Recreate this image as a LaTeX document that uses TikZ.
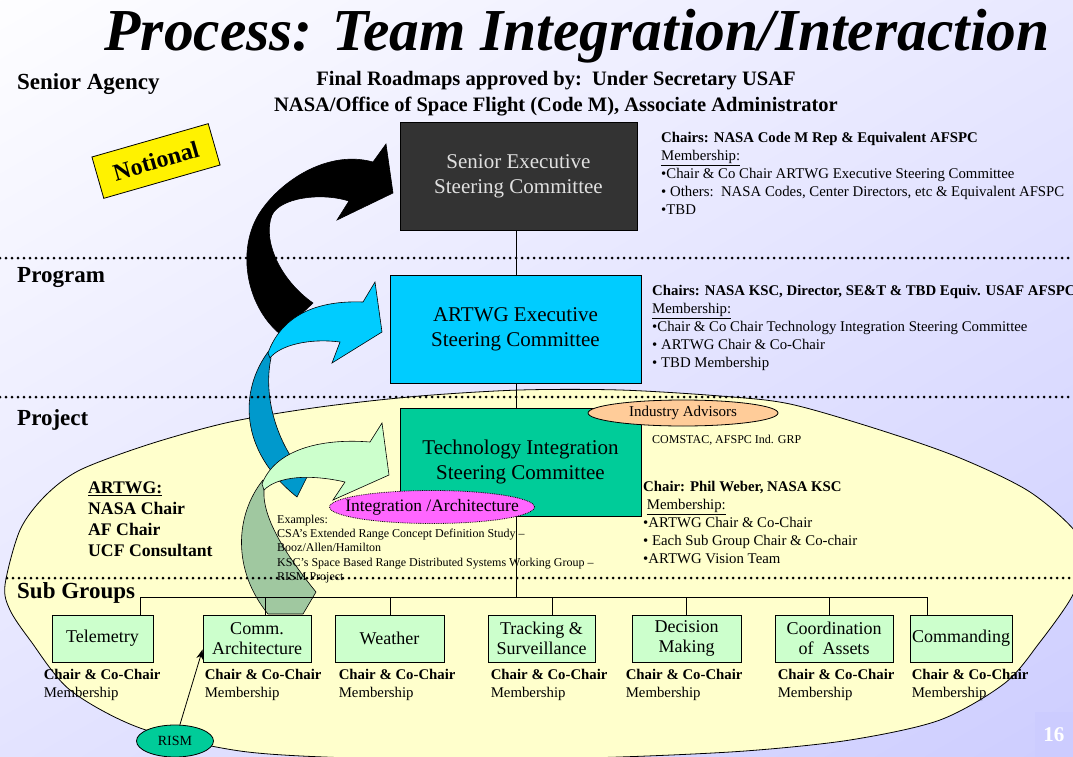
\documentclass[tikz,border=0pt]{standalone}
\usepackage{fontspec}
\setmainfont{Liberation Serif}
\usepackage{xcolor}
\usetikzlibrary{positioning}
\usetikzlibrary{shapes.geometric}
\usetikzlibrary{arrows.meta}

\definecolor{seniorgray}{RGB}{51,51,51}
\definecolor{execcyan}{RGB}{0,204,255}
\definecolor{execcyandk}{RGB}{0,153,204}
\definecolor{tisgreen}{RGB}{0,204,153}
\definecolor{subgreen}{RGB}{204,255,204}
\definecolor{subgreendk}{RGB}{160,200,160}
\definecolor{projyellow}{RGB}{255,255,204}
\definecolor{advorange}{RGB}{255,204,153}
\definecolor{intmagenta}{RGB}{255,102,255}
\definecolor{lavender}{RGB}{204,204,255}

\tikzset{%
  levelbox/.style={rectangle,draw=black,line width=0.8pt,minimum width=#1,minimum height=108pt,align=center,font=\fontsize{21}{25}\selectfont}
}
\tikzset{%
  subbox/.style={rectangle,draw=black,line width=0.8pt,fill=subgreen,minimum height=47pt,align=center,inner sep=2pt,font=\fontsize{18}{20}\selectfont},
  subnote/.style={inner sep=0pt,align=left,font=\fontsize{14.8}{18}\selectfont}
}
\tikzset{%
  levellabel/.style={anchor=west,inner sep=0pt,font=\bfseries\fontsize{23}{27}\selectfont},
  infotext/.style={anchor=north west,inner sep=0pt,align=left,font=\fontsize{14.8}{18}\selectfont},
  tagellipse/.style={ellipse,draw,line width=0.8pt,inner sep=0pt},
  sepline/.style={line width=3pt,dash pattern=on 0pt off 6pt,line cap=round},
  curvedarrow/.style={draw=black,line width=0.6pt},
  link/.style={line width=0.8pt}
}
\newcommand\chairnote{\textbf{Chair \& Co-Chair}\\Membership}

\begin{document}
\begin{tikzpicture}[x=1pt,y=-1pt,node distance=6pt]
\useasboundingbox (0,0) rectangle (1073,757);
\shade[top color=white,middle color=lavender!45,bottom color=lavender,shading angle=30] (-200,-200) rectangle (1273,957);

% project level
\draw[line width=0.8pt,fill=projyellow] plot[smooth cycle] coordinates {
  (5,585) (20,530) (45,496) (80,470) (150,444) (230,422) (320,407) (420,396) (520,390) (620,390)
  (720,396) (790,404) (880,430) (960,458) (1030,492) (1078,535) (1082,570) (1070,600) (1040,642)
  (1005,683) (940,720) (850,740) (745,751) (620,757) (480,760) (350,758) (240,751) (140,728)
  (70,690) (30,640) (10,610)};

% curved arrows between levels
\filldraw[curvedarrow,fill=black] (280,334) .. controls (245,305) and (235,245) .. (263,208)
  .. controls (285,178) and (330,150) .. (373,162) -- (386,144) -- (393,193) -- (337,220) -- (349,201)
  .. controls (320,192) and (280,198) .. (272,215) .. controls (262,240) and (280,280) .. (313,303) -- cycle;
\filldraw[curvedarrow,fill=execcyandk] (268,352) .. controls (240,390) and (238,450) .. (297,497) -- (307,477)
  .. controls (280,450) and (262,400) .. (271,358) -- cycle;
\filldraw[curvedarrow,fill=execcyan] (268,353) .. controls (280,320) and (310,300) .. (363,302) -- (375,282)
  -- (382,332) -- (332,363) -- (340,342) .. controls (310,338) and (280,345) .. (270,358) -- cycle;
\filldraw[curvedarrow,fill=subgreendk] (263,480) .. controls (235,515) and (232,570) .. (268,614) -- (303,614)
  -- (316,592) .. controls (290,560) and (262,520) .. (264,490) -- cycle;
\filldraw[curvedarrow,fill=subgreen] (262,484) .. controls (275,450) and (320,438) .. (370,442) -- (382,423)
  -- (389,475) -- (333,500) -- (345,482) .. controls (310,474) and (278,476) .. (264,490) -- cycle;

% headings
\node[font=\bfseries\itshape\fontsize{59.5}{64}\selectfont,inner sep=0pt] (title) at (577,36) {Process: Team Integration/Interaction};
\node[font=\bfseries\fontsize{20.5}{26}\selectfont,align=center] (approval) at (556,94)
  {Final Roadmaps approved by:\ \ Under Secretary USAF\\NASA/Office of Space Flight (Code M), Associate Administrator};
\node[levellabel] (lvsenior) at (17,84) {Senior Agency};
\node[levellabel] (lvprogram) at (17,278) {Program};
\node[levellabel] (lvproject) at (17,420) {Project};
\node[levellabel] (lvsub) at (17,593) {Sub Groups};
\node[draw,fill=yellow,line width=0.8pt,rotate=16,minimum width=121pt,minimum height=43pt,
  font=\bfseries\fontsize{24}{28}\selectfont] (notional) at (156,161) {Notional};

% committees
\node[levelbox=237pt,fill=seniorgray,text=white!88!black] (senior) at (518.5,176) {Senior Executive\\Steering Committee};
\node[levelbox=251pt,fill=execcyan] (artwg) at (515.5,329) {ARTWG Executive\\Steering Committee};
\node[levelbox=241pt,fill=tisgreen] (tisc) at (520.5,462) {Technology Integration\\Steering Committee};
\coordinate (spine) at (516,597);
\draw[link] (spine |- senior.south) -- (spine |- artwg.north);
\draw[link] (spine |- artwg.south) -- (spine |- tisc.north);
\draw[link] (spine |- tisc.south) -- (spine);

\node[infotext] (seninfo) at (661,132) {\textbf{Chairs: NASA Code M Rep \& Equivalent AFSPC}\\\underline{Membership:}\\
  •Chair \& Co Chair ARTWG Executive Steering Committee\\• Others:\ \ NASA Codes, Center Directors, etc \& Equivalent AFSPC\\•TBD};
\node[infotext] (artinfo) at (652,285) {\textbf{Chairs: NASA KSC, Director, SE\&T \& TBD Equiv. USAF AFSPC}\\\underline{Membership:}\\
  •Chair \& Co Chair Technology Integration Steering Committee\\• ARTWG Chair \& Co-Chair\\• TBD Membership};
\node[infotext] (tisinfo) at (643,481) {\textbf{Chair: Phil Weber, NASA KSC}\\\ \underline{Membership:}\\
  •ARTWG Chair \& Co-Chair\\• Each Sub Group Chair \& Co-chair\\•ARTWG Vision Team};
\node[infotext,font=\fontsize{12}{14}\selectfont] (comstac) at (652,435) {COMSTAC, AFSPC Ind. GRP};

\node[tagellipse,fill=advorange,minimum width=190pt,minimum height=26pt,
  font=\fontsize{15}{17}\selectfont] (advisors) at (683,413) {\makebox[0pt]{Industry Advisors}};
\node[tagellipse,densely dotted,fill=intmagenta,minimum width=205pt,minimum height=33pt,
  font=\fontsize{17.5}{19}\selectfont] (integ) at (432,507) {\makebox[0pt]{Integration /Architecture}};

\node[anchor=north west,inner sep=0pt,align=left,font=\bfseries\fontsize{17.7}{21}\selectfont] (artwgnote) at (88,482)
  {\underline{ARTWG:}\\NASA Chair\\AF Chair\\UCF Consultant};
\node[anchor=north west,inner sep=0pt,align=left,font=\fontsize{12}{14.2}\selectfont] (examples) at (277,515)
  {Examples:\\CSA’s Extended Range Concept Definition Study –\\Booz/Allen/Hamilton\\KSC’s Space Based Range Distributed Systems Working Group –\\RISM Project};

% sub groups
\foreach \nm/\cx/\bw/\kx/\lx/\txt in {%
    tele/102.5/101/140/-8/Telemetry,
    comm/257/108/265/2/{Comm.\\Architecture},
    wthr/389.5/109/390/4/Weather,
    trak/541.5/107/552/3/{Tracking \&\\Surveillance},
    deci/686.5/109/686/-6/{Decision\\Making},
    coord/834/118/829/3/{Coordination\\of\ \ Assets},
    cmd/961/102/927/2/Commanding}
{
  \node[subbox,minimum width=\bw pt] (\nm) at (\cx,638.5) {\txt};
  \coordinate (\nm-tap) at (\kx,597);
  \draw[link] (\nm-tap) -- (\nm-tap |- \nm.north);
  \node[subnote,below right=7pt and \lx pt of \nm.south west] (\nm-note) {\chairnote};
}
\draw[link] (tele-tap) -- (cmd-tap);

\node[tagellipse,fill=tisgreen,minimum width=77pt,minimum height=32pt,
  font=\fontsize{14}{16}\selectfont] (rism) at (175,741) {RISM};
\draw[link,-{Stealth[length=10pt,width=7pt]}] (rism) -- ([yshift=13pt]comm.south west);

% level separators
\draw[sepline] (0,258) -- (1073,258);
\draw[sepline] (0,397) -- (1073,397);
\draw[sepline] (7,578) -- (1073,578);

\node[fill=lavender,anchor=north east,minimum width=38pt,minimum height=45pt,text=white,
  font=\bfseries\fontsize{21}{24}\selectfont] (pagenum) at (1073,712) {16};
\end{tikzpicture}
\end{document}
